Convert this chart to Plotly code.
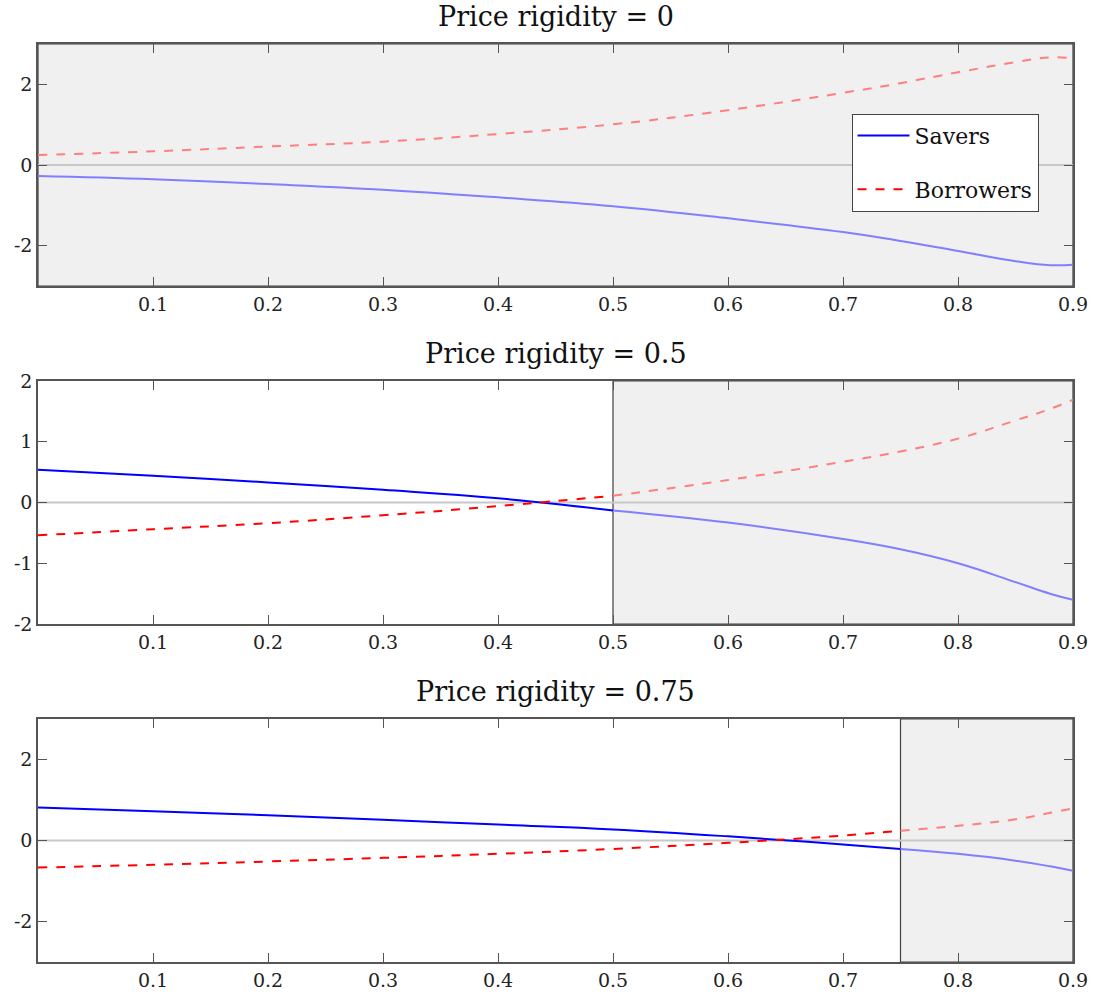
import plotly.graph_objects as go

X = [0.0, 0.1, 0.2, 0.3, 0.4, 0.5, 0.6, 0.7, 0.75, 0.8, 0.85, 0.88, 0.9]
rigidity = [0.0, 0.5, 0.75]
titles = ["Price rigidity = 0", "Price rigidity = 0.5", "Price rigidity = 0.75"]

savers_0 = [-0.27, -0.35, -0.47, -0.61, -0.80, -1.02, -1.32, -1.66, -1.88, -2.13, -2.38, -2.48, -2.47]
borrowers_0 = [0.25, 0.34, 0.46, 0.58, 0.77, 1.01, 1.36, 1.79, 2.03, 2.30, 2.55, 2.67, 2.64]
savers_05 = [0.54, 0.44, 0.33, 0.21, 0.07, -0.13, -0.33, -0.60, -0.77, -1.00, -1.31, -1.50, -1.60]
borrowers_05 = [-0.54, -0.44, -0.34, -0.21, -0.06, 0.11, 0.37, 0.67, 0.84, 1.05, 1.35, 1.54, 1.69]
savers_075 = [0.81, 0.72, 0.62, 0.51, 0.39, 0.27, 0.10, -0.10, -0.21, -0.33, -0.50, -0.64, -0.75]
borrowers_075 = [-0.67, -0.60, -0.52, -0.43, -0.33, -0.21, -0.06, 0.12, 0.24, 0.36, 0.52, 0.68, 0.79]

savers = [savers_0, savers_05, savers_075]
borrowers = [borrowers_0, borrowers_05, borrowers_075]
yranges = [[-3, 3], [-2, 2], [-3, 3]]
ytickvals = [[-2, 0, 2], [-2, -1, 0, 1, 2], [-2, 0, 2]]
xticks = [0.1, 0.2, 0.3, 0.4, 0.5, 0.6, 0.7, 0.8, 0.9]

FONT = "DejaVu Serif"
domains = [[0.7362, 1.0], [0.3681, 0.6330], [0.0, 0.2649]]

fig = go.Figure()

def split(xs, ys, r):
    left_x, left_y, right_x, right_y = [], [], [], []
    for x, y in zip(xs, ys):
        if x <= r + 1e-9:
            left_x.append(x); left_y.append(y)
        if x >= r - 1e-9:
            right_x.append(x); right_y.append(y)
    return left_x, left_y, right_x, right_y

for i in range(3):
    xa = "x" if i == 0 else f"x{i+1}"
    ya = "y" if i == 0 else f"y{i+1}"
    r = rigidity[i]
    fig.add_shape(type="rect", xref=xa, yref=ya, x0=r, x1=0.9, y0=yranges[i][0], y1=yranges[i][1],
                  fillcolor="#f0f0f0", line=dict(color="#404040", width=1.2), layer="below")
    fig.add_shape(type="line", xref=xa, yref=ya, x0=0, x1=0.9, y0=0, y1=0,
                  line=dict(color="#c8c8c8", width=2), layer="below")
    for ser, color, light, dash in [(savers[i], "#0000ff", "#7f7fff", "solid"),
                                    (borrowers[i], "#ff0000", "#ff7f7f", "dash")]:
        lx, ly, rx, ry = split(X, ser, r)
        if len(lx) > 1:
            fig.add_trace(go.Scatter(x=lx, y=ly, mode="lines", xaxis=xa, yaxis=ya,
                                     line=dict(color=color, width=2, dash=dash, shape="spline", smoothing=1.2),
                                     showlegend=False, hoverinfo="skip"))
        fig.add_trace(go.Scatter(x=rx, y=ry, mode="lines", xaxis=xa, yaxis=ya,
                                 line=dict(color=light, width=2, dash=dash, shape="spline", smoothing=1.2),
                                 showlegend=False, hoverinfo="skip"))
    fig.add_annotation(text=titles[i], xref="paper", yref="paper", x=0.5,
                       y=domains[i][1], yanchor="bottom", yshift=10, showarrow=False,
                       font=dict(family=FONT, size=27, color="#111"))

fig.add_trace(go.Scatter(x=[None], y=[None], mode="lines", name="Savers", legendgroup="s",
                         line=dict(color="#0000ff", width=2)))
fig.add_trace(go.Scatter(x=[None], y=[None], mode="lines", name="Borrowers", legendgroup="b",
                         line=dict(color="#ff0000", width=2, dash="dash")))

axis_common = dict(showgrid=False, zeroline=False, showline=True, linecolor="#555555", linewidth=1.5,
                   mirror="ticks", ticks="inside", ticklen=9, tickcolor="#555555",
                   tickfont=dict(family=FONT, size=19, color="#222"))

layout = dict(
    width=1100, height=1003,
    margin=dict(l=38, r=25, t=44, b=38),
    plot_bgcolor="white", paper_bgcolor="white",
    showlegend=True,
    legend=dict(x=0.786, y=0.924, xanchor="left", yanchor="top",
                bgcolor="white", bordercolor="#444", borderwidth=1,
                font=dict(family=FONT, size=22, color="#111"), tracegroupgap=22,
                itemwidth=52),
)
for i in range(3):
    xk = "xaxis" if i == 0 else f"xaxis{i+1}"
    yk = "yaxis" if i == 0 else f"yaxis{i+1}"
    xa = "x" if i == 0 else f"x{i+1}"
    ya = "y" if i == 0 else f"y{i+1}"
    layout[xk] = dict(axis_common, range=[0, 0.9], tickvals=xticks,
                      ticktext=[f"{v:g}" for v in xticks], anchor=ya, domain=[0, 1])
    layout[yk] = dict(axis_common, range=yranges[i], tickvals=ytickvals[i],
                      ticktext=[str(v) for v in ytickvals[i]], anchor=xa, domain=domains[i])
fig.update_layout(**layout)

fig.write_html("out.html", config={"displayModeBar": False},
               post_script="document.body.style.margin='0';document.body.style.overflow='hidden';")
